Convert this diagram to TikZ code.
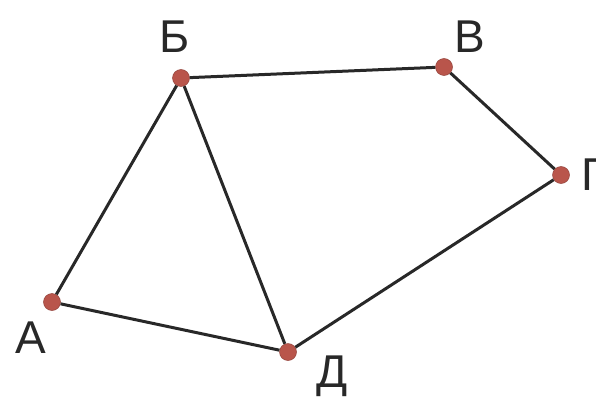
\documentclass[tikz,border=0pt]{standalone}
\usepackage{fontspec}
\setmainfont{Liberation Sans}
\definecolor{vert}{RGB}{185,85,75}
\definecolor{edge}{RGB}{40,40,40}
\begin{document}
\begin{tikzpicture}[x=1pt,y=-1pt,
  vtx/.style={circle,fill=vert,draw=vert!80!black,line width=0.5pt,inner sep=0pt,minimum size=17pt},
  edg/.style={draw=edge,line width=3pt},
  lbl/.style={font=\fontsize{46}{46}\selectfont,text=edge,inner sep=0pt}]
\useasboundingbox (0,0) rectangle (596,404);
\node[vtx] (A) at (52,302) {};
\node[vtx] (B) at (181,78) {};
\node[vtx] (V) at (444,67) {};
\node[vtx] (G) at (561,175) {};
\node[vtx] (D) at (288,352) {};
\begin{scope}[on background layer/.style={}]
\end{scope}
\draw[edg] (A) -- (B);
\draw[edg] (B) -- (V);
\draw[edg] (V) -- (G);
\draw[edg] (G) -- (D);
\draw[edg] (D) -- (A);
\draw[edg] (B) -- (D);
\node[lbl] (lA) at (31,338) {А};
\node[lbl] (lB) at (175,37) {Б};
\node[lbl] (lV) at (470,37) {В};
\node[lbl] (lG) at (594,175) {Г};
\node[lbl] (lD) at (332,376) {Д};
\end{tikzpicture}
\end{document}
